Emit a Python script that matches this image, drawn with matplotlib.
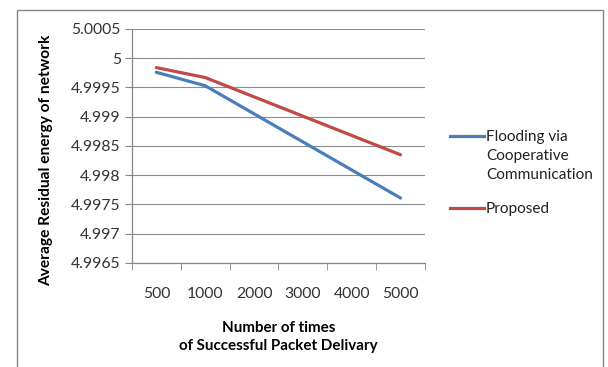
import matplotlib
matplotlib.use("Agg")
import matplotlib.pyplot as plt
from matplotlib.lines import Line2D
from matplotlib.patches import Rectangle

# data
categories = ["500", "1000", "2000", "3000", "4000", "5000"]
flooding = [4.99976, 4.99953, 4.99905, 4.99857, 4.99809, 4.99761]
proposed = [4.99984, 4.99967, 4.99934, 4.99901, 4.99868, 4.99835]
y_ticks = [4.9965, 4.997, 4.9975, 4.998, 4.9985, 4.999, 4.9995, 5.0, 5.0005]
y_tick_labels = ["4.9965", "4.997", "4.9975", "4.998", "4.9985", "4.999", "4.9995", "5", "5.0005"]
series_names = ["Flooding via\nCooperative\nCommunication", "Proposed"]
series_colors = ["#4A7EBB", "#BE4B48"]

plt.rcParams["font.family"] = ["Lato", "DejaVu Sans"]

fig = plt.figure(figsize=(6.08, 3.67), dpi=100)
ax = fig.add_axes([0.217, 0.2834, 0.482, 0.6376])

x = range(len(categories))
for vals, col in zip([flooding, proposed], series_colors):
    ax.plot(x, vals, color=col, lw=2.3, solid_capstyle="round")

ax.set_xlim(-0.5, len(categories) - 0.5)
ax.set_ylim(y_ticks[0], y_ticks[-1])
ax.set_yticks(y_ticks)
ax.set_yticklabels(y_tick_labels)
ax.set_xticks(list(x))
ax.set_xticklabels(categories)
ax.set_xticks([i - 0.5 for i in range(len(categories) + 1)], minor=True)
ax.tick_params(axis="x", which="major", length=0, pad=17, labelsize=11.3, labelcolor="#333333")
ax.tick_params(axis="x", which="minor", length=5, color="#868686")
ax.tick_params(axis="y", length=5, color="#868686", labelsize=11.3, labelcolor="#333333", pad=3)

ax.grid(axis="y", color="#8c8c8c", lw=0.8)
ax.set_axisbelow(True)
for s in ["top", "right"]:
    ax.spines[s].set_visible(False)
for s in ["left", "bottom"]:
    ax.spines[s].set_color("#868686")
    ax.spines[s].set_linewidth(0.9)

ax.set_ylabel("Average Residual energy of network", fontsize=11.2, fontweight="bold")
ax.yaxis.set_label_coords(-0.268, 0.44)
ax.set_xlabel("Number of times\nof Successful Packet Delivary", fontsize=10.9, fontweight="bold",
              labelpad=15, linespacing=1.3)

# legend drawn like the spreadsheet one: handle next to the first text line
leg_y = [136 / 367, 208 / 367]
for name, col, yy in zip(series_names, series_colors, leg_y):
    fig.lines.append(Line2D([450 / 608, 484 / 608], [1 - yy, 1 - yy], color=col, lw=2.3,
                            transform=fig.transFigure))
    fig.text(486 / 608, 1 - yy + 0.015, name, fontsize=11.1, va="top", ha="left",
             color="#222222", linespacing=1.45, transform=fig.transFigure)

# chart border like the spreadsheet frame
fig.patches.append(Rectangle((17 / 608, -0.1), (603 - 17) / 608, 1.1 - 10 / 367,
                             transform=fig.transFigure, fill=False, edgecolor="#868686", lw=1.0))

fig.savefig("out.png", dpi=100)
